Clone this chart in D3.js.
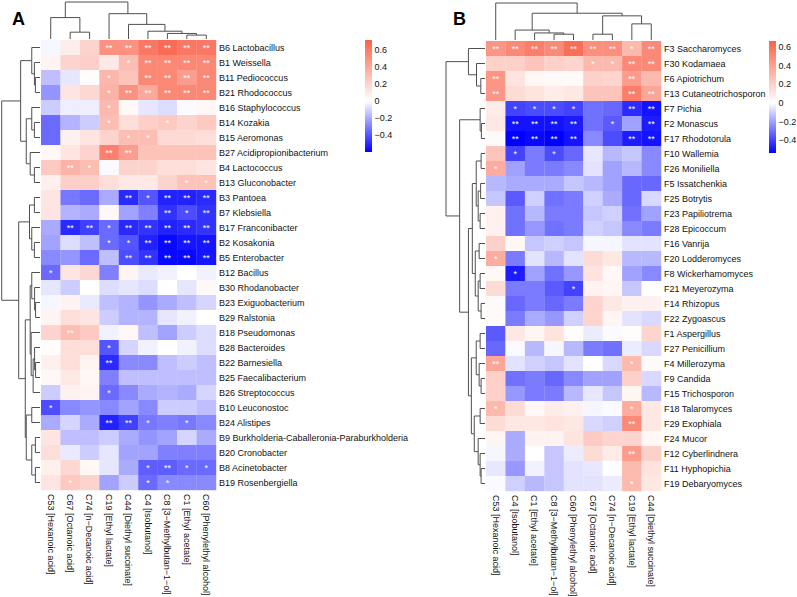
<!DOCTYPE html>
<html>
<head>
<meta charset="utf-8">
<script src="https://cdn.jsdelivr.net/npm/d3@7"></script>
<style>
  body { margin: 0; background: #fff; }
  svg { font-family: "Liberation Sans", Arial, sans-serif; }
</style>
</head>
<body>
<svg id="chart" width="797" height="597"></svg>
<script>
'use strict';

// ---- panel A : bacteria ----
var colsA = ["C53 [Hexanoic acid]", "C67 [Octanoic acid]", "C74 [n\u2212Decanoic acid]", "C19 [Ethyl lactate]",
    "C44 [Diethyl succinate]", "C4 [Isobutanol]", "C8 [3\u2212Methylbutan\u22121\u2212ol]", "C1 [Ethyl acetate]",
    "C60 [Phenylethyl alcohol]"];

var rowsA = ["B6 Lactobacillus", "B1 Weissella", "B11 Pediococcus", "B21 Rhodococcus", "B16 Staphylococcus",
    "B14 Kozakia", "B15 Aeromonas", "B27 Acidipropionibacterium", "B4 Lactococcus", "B13 Gluconobacter",
    "B3 Pantoea", "B7 Klebsiella", "B17 Franconibacter", "B2 Kosakonia", "B5 Enterobacter", "B12 Bacillus",
    "B30 Rhodanobacter", "B23 Exiguobacterium", "B29 Ralstonia", "B18 Pseudomonas", "B28 Bacteroides",
    "B22 Barnesiella", "B25 Faecalibacterium", "B26 Streptococcus", "B10 Leuconostoc", "B24 Alistipes",
    "B9 Burkholderia-Caballeronia-Paraburkholderia", "B20 Cronobacter", "B8 Acinetobacter", "B19 Rosenbergiella"];

var valuesA = [
    [-0.02, 0.08, 0.20, 0.50, 0.50, 0.62, 0.68, 0.62, 0.62],
    [0.05, 0.20, 0.22, 0.10, 0.30, 0.55, 0.55, 0.55, 0.55],
    [-0.15, -0.06, 0.01, 0.33, 0.27, 0.55, 0.55, 0.45, 0.55],
    [-0.25, 0.12, 0.18, 0.35, 0.50, 0.40, 0.55, 0.55, 0.55],
    [-0.12, -0.04, -0.04, 0.32, 0.03, -0.06, -0.08, -0.01, 0.04],
    [-0.35, -0.18, -0.12, 0.30, 0.15, 0.22, 0.25, 0.20, 0.25],
    [-0.35, 0.06, 0.12, 0.20, 0.30, 0.30, 0.17, 0.17, 0.15],
    [0.03, 0.12, 0.20, 0.58, 0.45, 0.28, 0.28, 0.28, 0.28],
    [0.25, 0.35, 0.30, -0.01, 0.20, 0.20, 0.15, 0.15, 0.12],
    [0.07, 0.22, 0.22, 0.15, 0.10, 0.10, 0.20, 0.28, 0.28],
    [0.12, -0.32, -0.35, -0.20, -0.50, -0.40, -0.52, -0.52, -0.50],
    [0.12, -0.18, -0.20, 0.03, -0.22, -0.30, -0.48, -0.42, -0.48],
    [-0.20, -0.50, -0.45, -0.35, -0.50, -0.48, -0.52, -0.50, -0.48],
    [-0.22, -0.08, -0.15, -0.35, -0.40, -0.52, -0.58, -0.55, -0.55],
    [-0.28, -0.25, -0.35, -0.15, -0.42, -0.48, -0.58, -0.58, -0.55],
    [-0.35, 0.12, 0.18, -0.30, 0.05, -0.05, -0.03, 0.00, -0.03],
    [-0.06, -0.12, 0.00, -0.08, -0.06, -0.08, 0.00, -0.06, 0.03],
    [-0.02, 0.05, -0.05, -0.15, -0.18, -0.25, -0.20, -0.15, -0.10],
    [0.05, 0.15, 0.12, -0.12, -0.18, -0.18, -0.06, -0.03, 0.00],
    [0.20, 0.30, 0.25, -0.03, 0.04, -0.15, -0.22, -0.12, -0.08],
    [0.01, 0.15, 0.15, -0.40, -0.10, -0.03, 0.00, -0.03, -0.08],
    [0.07, 0.15, 0.05, -0.50, -0.28, -0.28, -0.15, -0.12, -0.15],
    [0.03, 0.10, 0.03, -0.30, -0.15, -0.15, -0.15, -0.15, -0.15],
    [-0.12, 0.06, 0.05, -0.35, -0.28, -0.20, -0.18, -0.20, -0.10],
    [-0.42, -0.28, -0.25, -0.28, -0.22, -0.28, -0.12, -0.12, -0.15],
    [-0.20, -0.10, -0.20, -0.52, -0.45, -0.32, -0.30, -0.32, -0.28],
    [0.12, -0.15, -0.15, -0.12, -0.20, -0.25, -0.22, -0.10, -0.20],
    [0.15, -0.05, -0.12, -0.06, -0.22, -0.22, -0.30, -0.30, -0.30],
    [0.07, 0.18, 0.03, -0.06, -0.20, -0.38, -0.38, -0.35, -0.35],
    [0.12, 0.25, 0.20, -0.22, -0.12, -0.35, -0.28, -0.28, -0.28]
];

// number of asterisks per cell (1 = p<0.05, 2 = p<0.01)
var starsA = [
    [0, 0, 0, 2, 2, 2, 2, 2, 2], [0, 0, 0, 0, 1, 2, 2, 2, 2], [0, 0, 0, 1, 0, 2, 2, 2, 2],
    [0, 0, 0, 1, 2, 2, 2, 2, 2], [0, 0, 0, 1, 0, 0, 0, 0, 0], [0, 0, 0, 1, 0, 0, 1, 0, 0],
    [0, 0, 0, 0, 1, 1, 0, 0, 0], [0, 0, 0, 2, 2, 0, 0, 0, 0], [0, 2, 1, 0, 0, 0, 0, 0, 0],
    [0, 0, 0, 0, 0, 0, 0, 1, 1], [0, 0, 0, 0, 2, 1, 2, 2, 2], [0, 0, 0, 0, 0, 0, 2, 1, 2],
    [0, 2, 2, 1, 2, 2, 2, 2, 2], [0, 0, 0, 1, 1, 2, 2, 2, 2], [0, 0, 0, 0, 2, 2, 2, 2, 2],
    [1, 0, 0, 0, 0, 0, 0, 0, 0], [0, 0, 0, 0, 0, 0, 0, 0, 0], [0, 0, 0, 0, 0, 0, 0, 0, 0],
    [0, 0, 0, 0, 0, 0, 0, 0, 0], [0, 2, 0, 0, 0, 0, 0, 0, 0], [0, 0, 0, 1, 0, 0, 0, 0, 0],
    [0, 0, 0, 2, 0, 0, 0, 0, 0], [0, 0, 0, 0, 0, 0, 0, 0, 0], [0, 0, 0, 1, 0, 0, 0, 0, 0],
    [1, 0, 0, 0, 0, 0, 0, 0, 0], [0, 0, 0, 2, 2, 1, 0, 1, 0], [0, 0, 0, 0, 0, 0, 0, 0, 0],
    [0, 0, 0, 0, 0, 0, 0, 0, 0], [0, 0, 0, 0, 0, 1, 2, 1, 1], [0, 1, 0, 0, 0, 1, 1, 0, 0]
];

// dendrograms: [height, left, right], leaves are codes
var colTreeA = [38, [22, "C53", [7, "C67", "C74"]],
    [26, "C19", [15, "C44", [8, "C4", [5.7, "C8", [4, "C1", "C60"]]]]]];

var rowTreeA = [39,
    [19.7,
        [8.4, "B6", [5.7, "B1", [4.7, "B11", "B21"]]],
        [14, [8.4, "B16", [5.7, "B14", "B15"]], [10, "B27", [5.7, "B4", "B13"]]]],
    [21.7,
        [10.7, [5.7, "B3", "B7"], [8.4, "B17", [5.7, "B2", "B5"]]],
        [15,
            [10, [8.4, "B12", [5.5, "B30", [4.5, "B23", "B29"]]],
                [9, "B18", [7, [5.5, "B28", [4.5, "B22", "B25"]], "B26"]]],
            [14, [8.4, "B10", "B24"], [8.4, [4.7, "B9", "B20"], [4.7, "B8", "B19"]]]]]];

var rangeA = [-0.6, 0.718];

// ---- panel B : fungi ----
var colsB = ["C53 [Hexanoic acid]", "C4 [Isobutanol]", "C1 [Ethyl acetate]", "C8 [3\u2212Methylbutan\u22121\u2212ol]",
    "C60 [Phenylethyl alcohol]", "C67 [Octanoic acid]", "C74 [n\u2212Decanoic acid]", "C19 [Ethyl lactate]",
    "C44 [Diethyl succinate]"];

var rowsB = ["F3 Saccharomyces", "F30 Kodamaea", "F6 Apiotrichum", "F13 Cutaneotrichosporon", "F7 Pichia",
    "F2 Monascus", "F17 Rhodotorula", "F10 Wallemia", "F26 Moniliella", "F5 Issatchenkia", "F25 Botrytis",
    "F23 Papiliotrema", "F28 Epicoccum", "F16 Vanrija", "F20 Lodderomyces", "F8 Wickerhamomyces",
    "F21 Meyerozyma", "F14 Rhizopus", "F22 Zygoascus", "F1 Aspergillus", "F27 Penicillium", "F4 Millerozyma",
    "F9 Candida", "F15 Trichosporon", "F18 Talaromyces", "F29 Exophiala", "F24 Mucor", "F12 Cyberlindnera",
    "F11 Hyphopichia", "F19 Debaryomyces"];

var valuesB = [
    [0.45, 0.50, 0.55, 0.50, 0.62, 0.48, 0.48, 0.30, 0.50],
    [0.20, 0.20, 0.25, 0.20, 0.18, 0.30, 0.30, 0.50, 0.50],
    [0.45, 0.12, 0.03, 0.02, 0.02, 0.20, 0.18, 0.42, 0.30],
    [0.45, 0.15, 0.12, 0.08, 0.10, 0.25, 0.25, 0.55, 0.38],
    [0.08, -0.40, -0.38, -0.38, -0.40, -0.30, -0.32, -0.45, -0.50],
    [0.10, -0.50, -0.50, -0.50, -0.48, -0.30, -0.35, -0.20, -0.48],
    [0.02, -0.54, -0.52, -0.54, -0.50, -0.25, -0.38, -0.48, -0.50],
    [0.25, -0.40, -0.28, -0.38, -0.32, -0.05, -0.15, -0.12, -0.25],
    [0.35, -0.20, -0.28, -0.28, -0.25, -0.06, -0.20, -0.15, -0.25],
    [-0.15, -0.18, -0.18, -0.18, -0.12, -0.15, -0.20, -0.32, -0.32],
    [-0.12, -0.35, -0.10, -0.30, -0.28, -0.10, -0.18, -0.32, -0.08],
    [0.06, -0.30, -0.15, -0.28, -0.28, -0.12, -0.10, -0.30, -0.20],
    [0.06, -0.30, -0.22, -0.30, -0.28, -0.10, -0.12, -0.25, -0.28],
    [0.20, 0.03, -0.12, -0.10, -0.12, -0.02, -0.02, -0.06, -0.06],
    [0.35, -0.28, -0.06, -0.15, -0.06, 0.15, 0.10, -0.15, -0.15],
    [0.03, -0.48, -0.20, -0.30, -0.22, 0.12, 0.03, -0.20, -0.25],
    [0.15, -0.28, -0.28, -0.35, -0.40, 0.05, 0.04, -0.12, 0.00],
    [0.02, -0.32, -0.28, -0.32, -0.28, 0.18, 0.10, 0.06, 0.06],
    [0.02, -0.28, -0.18, -0.22, -0.10, 0.18, 0.04, -0.06, -0.08],
    [-0.35, 0.10, 0.04, 0.12, 0.01, -0.04, -0.01, 0.01, 0.18],
    [-0.32, -0.01, -0.15, -0.02, -0.15, -0.28, -0.30, -0.04, -0.08],
    [0.38, -0.06, -0.10, -0.12, -0.06, 0.00, -0.08, 0.30, 0.02],
    [0.20, -0.30, -0.28, -0.32, -0.25, -0.20, -0.20, 0.20, -0.08],
    [0.20, -0.22, -0.28, -0.28, -0.15, -0.05, -0.12, 0.04, -0.15],
    [0.30, 0.15, 0.03, 0.08, 0.06, -0.02, -0.01, 0.35, 0.10],
    [0.15, 0.10, 0.10, 0.12, 0.10, -0.08, -0.10, 0.50, 0.10],
    [0.04, -0.18, 0.05, 0.05, 0.12, 0.22, 0.18, 0.18, 0.03],
    [-0.02, -0.18, 0.00, -0.12, -0.04, 0.15, 0.08, 0.42, 0.20],
    [-0.05, -0.22, -0.03, -0.12, -0.06, -0.05, 0.00, 0.30, 0.12],
    [-0.01, -0.10, -0.15, -0.12, -0.06, -0.06, -0.04, 0.30, 0.10]
];

var starsB = [
    [2, 2, 2, 2, 2, 2, 2, 1, 2], [0, 0, 0, 0, 0, 1, 1, 2, 2], [2, 0, 0, 0, 0, 0, 0, 2, 0],
    [2, 0, 0, 0, 0, 0, 0, 2, 2], [0, 1, 1, 1, 1, 0, 0, 2, 2], [0, 2, 2, 2, 2, 0, 1, 0, 2],
    [0, 2, 2, 2, 2, 0, 0, 2, 2], [0, 1, 0, 1, 0, 0, 0, 0, 0], [1, 0, 0, 0, 0, 0, 0, 0, 0],
    [0, 0, 0, 0, 0, 0, 0, 0, 0], [0, 0, 0, 0, 0, 0, 0, 0, 0], [0, 0, 0, 0, 0, 0, 0, 0, 0],
    [0, 0, 0, 0, 0, 0, 0, 0, 0], [0, 0, 0, 0, 0, 0, 0, 0, 0], [1, 0, 0, 0, 0, 0, 0, 0, 0],
    [0, 1, 0, 0, 0, 0, 0, 0, 0], [0, 0, 0, 0, 1, 0, 0, 0, 0], [0, 0, 0, 0, 0, 0, 0, 0, 0],
    [0, 0, 0, 0, 0, 0, 0, 0, 0], [0, 0, 0, 0, 0, 0, 0, 0, 0], [0, 0, 0, 0, 0, 0, 0, 0, 0],
    [2, 0, 0, 0, 0, 0, 0, 1, 0], [0, 0, 0, 0, 0, 0, 0, 0, 0], [0, 0, 0, 0, 0, 0, 0, 0, 0],
    [1, 0, 0, 0, 0, 0, 0, 1, 0], [0, 0, 0, 0, 0, 0, 0, 2, 0], [0, 0, 0, 0, 0, 0, 0, 0, 0],
    [0, 0, 0, 0, 0, 0, 0, 2, 0], [0, 0, 0, 0, 0, 0, 0, 0, 0], [0, 0, 0, 0, 0, 0, 0, 1, 0]
];

var colTreeB = [38.3, "C53",
    [27.7, [10.3, "C4", [7.3, "C1", [6, "C8", "C60"]]], [25, [6, "C67", "C74"], [16.7, "C19", "C44"]]]];

var rowTreeB = [40,
    [17, "F3", [8.7, "F30", [4.3, "F6", "F13"]]],
    [26,
        [5, "F7", [3.7, "F2", "F17"]],
        [17,
            [13, [9, [4, "F10", "F26"], [7, [4.5, "F5", "F25"], [5, "F23", "F28"]]],
                [10, [6, "F16", "F20"], [7, [5, "F8", "F21"], [4, "F14", "F22"]]]],
            [14, [9, [5, "F1", "F27"], [6, "F4", [4, "F9", "F15"]]],
                [11, [5, "F18", "F29"], [7, "F24", [5, "F12", [4, "F11", "F19"]]]]]]]];

var rangeB = [-0.54, 0.665];

var legendTicks = [-0.4, -0.2, 0, 0.2, 0.4, 0.6];

var svg = d3.select("#chart");

drawPanel({ letter: "A", letterX: 12, cols: colsA, rows: rowsA, values: valuesA, stars: starsA,
    colTree: colTreeA, rowTree: rowTreeA, range: rangeA,
    left: 41, top: 40, rowTreeLeft: 1.7, legendX: 365 });

drawPanel({ letter: "B", letterX: 453, cols: colsB, rows: rowsB, values: valuesB, stars: starsB,
    colTree: colTreeB, rowTree: rowTreeB, range: rangeB,
    left: 486, top: 41, rowTreeLeft: 446, legendX: 769 });

function code(label) { return label.split(" ")[0]; }

function drawPanel(p) {
    var gridW = 175, gridH = 450;
    var colCodes = p.cols.map(code),
        rowCodes = p.rows.map(code);

    var x = d3.scaleBand().domain(colCodes).range([p.left, p.left + gridW]);
    var y = d3.scaleBand().domain(rowCodes).range([p.top, p.top + gridH]);

    var color = d3.scaleLinear()
        .domain([p.range[0], 0, p.range[1]])
        .range(["#0000ff", "#ffffff", "#f9634a"])
        .clamp(true);

    var g = svg.append("g");

    // cells
    var cells = [];
    p.values.forEach(function (row, i) {
        row.forEach(function (v, j) {
            cells.push({ r: rowCodes[i], c: colCodes[j], v: v, s: p.stars[i][j] });
        });
    });

    g.append("g").selectAll("rect")
        .data(cells)
      .enter().append("rect")
        .attr("x", function (d) { return x(d.c); })
        .attr("y", function (d) { return y(d.r); })
        .attr("width", x.bandwidth() + 0.2)
        .attr("height", y.bandwidth() + 0.2)
        .attr("fill", function (d) { return color(d.v); });

    g.append("g").selectAll("text")
        .data(cells.filter(function (d) { return d.s > 0; }))
      .enter().append("text")
        .attr("x", function (d) { return x(d.c) + x.bandwidth() / 2; })
        .attr("y", function (d) { return y(d.r) + y.bandwidth() / 2 + 3.5; })
        .attr("text-anchor", "middle")
        .attr("fill", "#ffffff")
        .style("font-size", "9px")
        .text(function (d) { return d.s === 2 ? "**" : "*"; });

    // row labels
    g.append("g").selectAll("text")
        .data(p.rows)
      .enter().append("text")
        .attr("x", p.left + gridW + 3)
        .attr("y", function (d) { return y(code(d)) + y.bandwidth() / 2; })
        .attr("dy", "0.35em")
        .attr("fill", "#111")
        .style("font-size", "9px")
        .text(function (d) { return d; });

    // column labels, rotated
    g.append("g").selectAll("text")
        .data(p.cols)
      .enter().append("text")
        .attr("transform", function (d) {
            return "translate(" + (x(code(d)) + x.bandwidth() / 2) + "," + (p.top + gridH + 4) + ")rotate(90)";
        })
        .attr("dy", "0.35em")
        .attr("fill", "#111")
        .style("font-size", "9px")
        .text(function (d) { return d; });

    // dendrograms
    var colRoot = layoutTree(p.colTree, function (c) { return x(c) + x.bandwidth() / 2; });
    var colH = d3.scaleLinear().domain([0, colRoot.h]).range([p.top - 1, p.top - 38]);
    g.append("g").selectAll("path")
        .data(colRoot.descendants().filter(function (n) { return n.children; }))
      .enter().append("path")
        .attr("d", function (n) {
            var a = n.children[0], b = n.children[1];
            return "M" + a.p + "," + colH(a.h) + "V" + colH(n.h) + "H" + b.p + "V" + colH(b.h);
        })
        .attr("fill", "none")
        .attr("stroke", "#505050")
        .attr("stroke-width", 1);

    var rowRoot = layoutTree(p.rowTree, function (r) { return y(r) + y.bandwidth() / 2; });
    var rowH = d3.scaleLinear().domain([0, rowRoot.h]).range([p.left - 1, p.rowTreeLeft]);
    g.append("g").selectAll("path")
        .data(rowRoot.descendants().filter(function (n) { return n.children; }))
      .enter().append("path")
        .attr("d", function (n) {
            var a = n.children[0], b = n.children[1];
            return "M" + rowH(a.h) + "," + a.p + "H" + rowH(n.h) + "V" + b.p + "H" + rowH(b.h);
        })
        .attr("fill", "none")
        .attr("stroke", "#505050")
        .attr("stroke-width", 1);

    // colour key
    var legH = 112, legW = 7;
    var ly = d3.scaleLinear().domain(p.range).range([p.top + legH, p.top]);
    var gradId = "grad" + p.letter;
    var grad = svg.append("defs").append("linearGradient")
        .attr("id", gradId)
        .attr("x1", 0).attr("y1", 1).attr("x2", 0).attr("y2", 0);
    [p.range[0], 0, p.range[1]].forEach(function (v) {
        grad.append("stop")
            .attr("offset", (v - p.range[0]) / (p.range[1] - p.range[0]))
            .attr("stop-color", color(v));
    });
    g.append("rect")
        .attr("x", p.legendX)
        .attr("y", p.top)
        .attr("width", legW)
        .attr("height", legH)
        .attr("fill", "url(#" + gradId + ")");

    g.append("g").selectAll("text")
        .data(legendTicks)
      .enter().append("text")
        .attr("x", p.legendX + legW + 2.5)
        .attr("y", function (d) { return ly(d); })
        .attr("dy", "0.35em")
        .attr("fill", "#111")
        .style("font-size", "9px")
        .text(function (d) { return d === 0 ? "0" : d3.format(".1f")(d); });

    // panel letter
    g.append("text")
        .attr("x", p.letterX)
        .attr("y", 24.5)
        .style("font-size", "18px")
        .style("font-weight", "bold")
        .text(p.letter);
}

function layoutTree(tree, pos) {
    var root = d3.hierarchy(tree, function (d) { return typeof d === "string" ? null : d.slice(1); });
    root.eachAfter(function (n) {
        if (n.children) {
            n.p = (n.children[0].p + n.children[1].p) / 2;
            n.h = n.data[0];
        } else {
            n.p = pos(n.data);
            n.h = 0;
        }
    });
    return root;
}
</script>
</body>
</html>
